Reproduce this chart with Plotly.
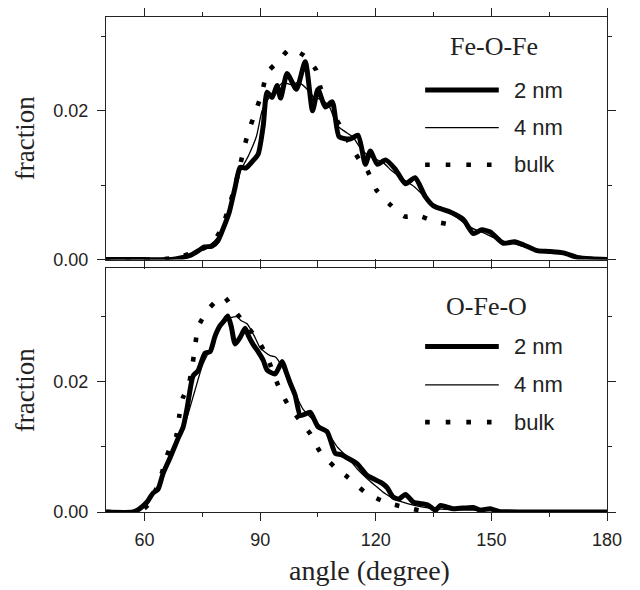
import plotly.graph_objects as go

# Fe-O-Fe (top panel)
feofe_2nm_x = [50, 60, 66, 68, 70, 72, 74, 75.5, 77.5, 79, 80.5, 82, 83.5, 84.8, 86.3, 88, 89.5, 90.8,
               91.8, 93.1, 94.4, 95.3, 97.0, 99.4, 101.7, 103.6, 105.0, 106.9, 108.7, 110.5, 113.4,
               115.4, 117.3, 118.6, 120.4, 122.5, 125.0, 127.7, 130.2, 132.8, 135.0, 137.0, 139.3,
               142.7, 145.3, 147.5, 149.7, 153.1, 156, 158.3, 161.9, 165, 168.7, 172.3, 176, 180]
feofe_2nm_y = [0, 0, 0, 0.0001, 0.0003, 0.0006, 0.0012, 0.0017, 0.0018, 0.0025, 0.0043, 0.0064, 0.0097,
               0.0124, 0.0123, 0.0132, 0.0142, 0.0180, 0.0225, 0.0218, 0.0234, 0.0217, 0.0250, 0.0229,
               0.0266, 0.0200, 0.0229, 0.0205, 0.0212, 0.0165, 0.0162, 0.0167, 0.0128, 0.0146, 0.0128,
               0.0134, 0.0122, 0.0102, 0.0110, 0.0085, 0.0072, 0.0068, 0.0064, 0.0054, 0.0035, 0.0040,
               0.0037, 0.0022, 0.0024, 0.0020, 0.0012, 0.0011, 0.0009, 0.0003, 0.0001, 0.0]

feofe_4nm_x = [50, 66, 70, 74, 77, 79, 81, 83, 85, 87, 89, 90.5, 92, 94, 96, 98, 100, 102, 104, 106,
               108, 110, 112, 114, 116, 118, 120, 122, 124, 126, 128, 130, 132, 134, 136, 138, 140,
               142, 144, 146, 148, 150, 153, 156, 160, 164, 168, 172, 176, 180]
feofe_4nm_y = [0, 0, 0.0004, 0.0012, 0.0020, 0.0030, 0.0050, 0.0085, 0.0120, 0.0140, 0.0165, 0.0200,
               0.0215, 0.0228, 0.0238, 0.0235, 0.0238, 0.0230, 0.0218, 0.0215, 0.0205, 0.0180, 0.0172,
               0.0165, 0.0150, 0.0140, 0.0135, 0.0130, 0.0120, 0.0112, 0.0105, 0.0098, 0.0088, 0.0078,
               0.0072, 0.0066, 0.0060, 0.0053, 0.0045, 0.0040, 0.0036, 0.0031, 0.0025, 0.0021, 0.0015,
               0.0011, 0.0008, 0.0004, 0.0001, 0.0]

feofe_bulk_x = [50, 64, 67, 70, 73, 76, 78, 80, 81.5, 83, 84.5, 85.6, 86.9, 88.7, 90.5, 91.8, 94.4,
                97.8, 101.4, 104.5, 105.6, 108, 110.8, 113.4, 116, 117.8, 120.1, 123.5, 127.4, 131,
                135.4, 139.9, 140.6]
feofe_bulk_y = [0, 0, 0.0002, 0.0005, 0.0010, 0.0017, 0.0025, 0.0042, 0.0064, 0.0090, 0.0120, 0.0145,
                0.0171, 0.0197, 0.0225, 0.0251, 0.0265, 0.0283, 0.0274, 0.0255, 0.0232, 0.0205, 0.0179,
                0.0154, 0.0132, 0.0120, 0.0094, 0.0075, 0.0058, 0.0059, 0.0051, 0.0046, 0.0042]

# O-Fe-O (bottom panel)
ofeo_2nm_x = [50, 57, 58.5, 60.6, 62.2, 63.5, 64.8, 66.6, 68.7, 70, 71, 72.6, 73.9, 75.7, 77, 78.3,
              79.6, 80.6, 81.6, 82.5, 83.5, 84.8, 86.1, 87, 88.2, 89.5, 90.8, 91.8, 93.9, 95.7, 96.8,
              97.8, 99.1, 100.4, 101.5, 103, 105, 107.4, 109.5, 111, 112.6, 115.2, 117.8, 121.7, 123,
              124.5, 126, 127.7, 129.8, 133.4, 135.5, 136.8, 140, 145.3, 147, 149.7, 152, 160, 180]
ofeo_2nm_y = [0, 0, 0.0004, 0.0015, 0.0029, 0.0035, 0.0059, 0.0083, 0.0113, 0.0130, 0.0158, 0.0209,
              0.0217, 0.0244, 0.0246, 0.0270, 0.0286, 0.0293, 0.0301, 0.0285, 0.0258, 0.0268, 0.0282,
              0.0270, 0.0257, 0.0246, 0.0233, 0.0218, 0.0212, 0.0231, 0.0214, 0.0198, 0.0179, 0.0148,
              0.0150, 0.0153, 0.0131, 0.0123, 0.0090, 0.0088, 0.0083, 0.0074, 0.0056, 0.0044, 0.0037,
              0.0023, 0.0020, 0.0027, 0.0015, 0.0011, 0.0003, 0.0010, 0.0005, 0.0007, 0.0003, 0.0005,
              0.0001, 0.0, 0.0]

ofeo_4nm_x = [50, 57, 59, 61, 63, 65, 67, 69, 71, 73, 75, 77, 79, 80.5, 82, 84, 85, 86.6, 88.5, 90,
              92.6, 94, 96, 98.6, 101.2, 104, 107.4, 110, 112.5, 115.2, 118, 120.4, 122.5, 124.5, 127,
              130, 134, 138, 145, 150, 160, 180]
ofeo_4nm_y = [0, 0, 0.0006, 0.0018, 0.0035, 0.0060, 0.0087, 0.0115, 0.0145, 0.0185, 0.0225, 0.0250,
              0.0280, 0.0295, 0.0298, 0.0300, 0.0294, 0.0289, 0.0270, 0.0252, 0.0240, 0.0238, 0.0220,
              0.0188, 0.0157, 0.0140, 0.0123, 0.0100, 0.0085, 0.0066, 0.0050, 0.0038, 0.0028, 0.0021,
              0.0015, 0.0010, 0.0006, 0.0004, 0.0003, 0.0002, 0.0, 0.0]

ofeo_bulk_x = [50, 58, 60, 61.5, 63, 64.5, 65.8, 67, 68.2, 69, 70, 71.3, 72.3, 73.1, 73.9, 76.8, 80.4,
               83.5, 89.5, 91.8, 94.7, 97, 100, 103, 105.5, 109.5, 112.8, 117.3, 122.5, 127.1, 132, 140]
ofeo_bulk_y = [0, 0, 0.0006, 0.0015, 0.0035, 0.0060, 0.0086, 0.0105, 0.0116, 0.0147, 0.0176, 0.0191,
               0.0221, 0.0253, 0.0284, 0.0313, 0.0331, 0.0308, 0.0263, 0.0238, 0.0194, 0.0167, 0.0143,
               0.0120, 0.0093, 0.0068, 0.0053, 0.0030, 0.0015, 0.0008, 0.0002, 0.0]

panel_titles = ['Fe-O-Fe', 'O-Fe-O']
series_names = ['2 nm', '4 nm', 'bulk']

thick = dict(color='black', width=5, shape='spline', smoothing=0.6)
thin = dict(color='black', width=1.3, shape='spline', smoothing=0.6)
dots = dict(color='black', width=4.6, dash='4.6px,15px', shape='spline', smoothing=0.6)

fig = go.Figure()
panels = [
    ('x', 'y', feofe_2nm_x, feofe_2nm_y, feofe_4nm_x, feofe_4nm_y, feofe_bulk_x, feofe_bulk_y),
    ('x2', 'y2', ofeo_2nm_x, ofeo_2nm_y, ofeo_4nm_x, ofeo_4nm_y, ofeo_bulk_x, ofeo_bulk_y),
]
for xa, ya, x2, y2, x4, y4, xb, yb in panels:
    fig.add_trace(go.Scatter(x=xb, y=yb, mode='lines', line=dots, xaxis=xa, yaxis=ya, showlegend=False))
    fig.add_trace(go.Scatter(x=x4, y=y4, mode='lines', line=thin, xaxis=xa, yaxis=ya, showlegend=False))
    fig.add_trace(go.Scatter(x=x2, y=y2, mode='lines', line=thick, xaxis=xa, yaxis=ya, showlegend=False))

tickfont = dict(family='Liberation Sans, Arial', size=18, color='#222')
titlefont = dict(family='Liberation Serif, Times New Roman', size=27, color='#222')

xcommon = dict(range=[50, 180], tick0=0, dtick=30, ticks='outside', ticklen=8, tickwidth=1.3,
               tickcolor='#222', showline=True, linecolor='#222', linewidth=1.4, mirror='ticks',
               showgrid=False, zeroline=False, tickfont=tickfont,
               minor=dict(dtick=15, tick0=0, ticks='outside', ticklen=4, tickcolor='#222'))
ycommon = dict(tick0=0, dtick=0.02, tickformat='.2f', ticks='outside', ticklen=8, tickwidth=1.3,
               tickcolor='#222', showline=True, linecolor='#222', linewidth=1.4, mirror='ticks',
               showgrid=False, zeroline=False, tickfont=tickfont, ticklabelstandoff=5,
               minor=dict(dtick=0.01, tick0=0, ticks='outside', ticklen=4, tickcolor='#222'),
               title=dict(text='fraction', font=titlefont, standoff=10))

# the page body adds an 8px offset, so the figure is a bit smaller than the window
fig.update_layout(
    width=632, height=582,
    margin=dict(l=98, r=33, t=0, b=78),
    paper_bgcolor='white', plot_bgcolor='white',
    xaxis=dict(xcommon, anchor='y', showticklabels=False),
    yaxis=dict(ycommon, domain=[0.5099, 1], range=[0, 0.0326], anchor='x'),
    xaxis2=dict(xcommon, anchor='y2', ticklabelstandoff=3),
    yaxis2=dict(ycommon, domain=[0, 0.4921], range=[0, 0.0374], anchor='x2'),
)

# x axis title sits a little right of centre in the original
fig.add_annotation(x=0.525, y=0, xref='paper', yref='paper', yshift=-58, text='angle (degree)',
                   showarrow=False, xanchor='center', yanchor='middle', font=dict(titlefont, size=28))

# legend drawn inside each panel
legend_rows = {'x': [0.699, 0.544, 0.391], 'x2': [0.679, 0.522, 0.369]}
title_pos = {'x': (0.774, 0.879), 'x2': (0.76, 0.843)}
styles = [dict(color='black', width=5), dict(color='black', width=1.3),
          dict(color='black', width=4.6, dash='4.6px,16px')]
for (xa, ya), ptitle in zip([('x', 'y'), ('x2', 'y2')], panel_titles):
    tx, ty = title_pos[xa]
    fig.add_annotation(x=tx, y=ty, xref=f'{xa} domain', yref=f'{ya} domain', text=ptitle,
                       showarrow=False, xanchor='center', yanchor='middle', font=dict(titlefont, size=26))
    for name, yy, st in zip(series_names, legend_rows[xa], styles):
        fig.add_shape(type='line', xref=f'{xa} domain', yref=f'{ya} domain',
                      x0=0.637, x1=0.784, y0=yy, y1=yy, line=st)
        fig.add_annotation(x=0.81, y=yy, xref=f'{xa} domain', yref=f'{ya} domain', text=name,
                           showarrow=False, xanchor='left', yanchor='middle',
                           font=dict(family='Liberation Sans, Arial', size=22, color='#222'))

fig.write_html('out.html')
